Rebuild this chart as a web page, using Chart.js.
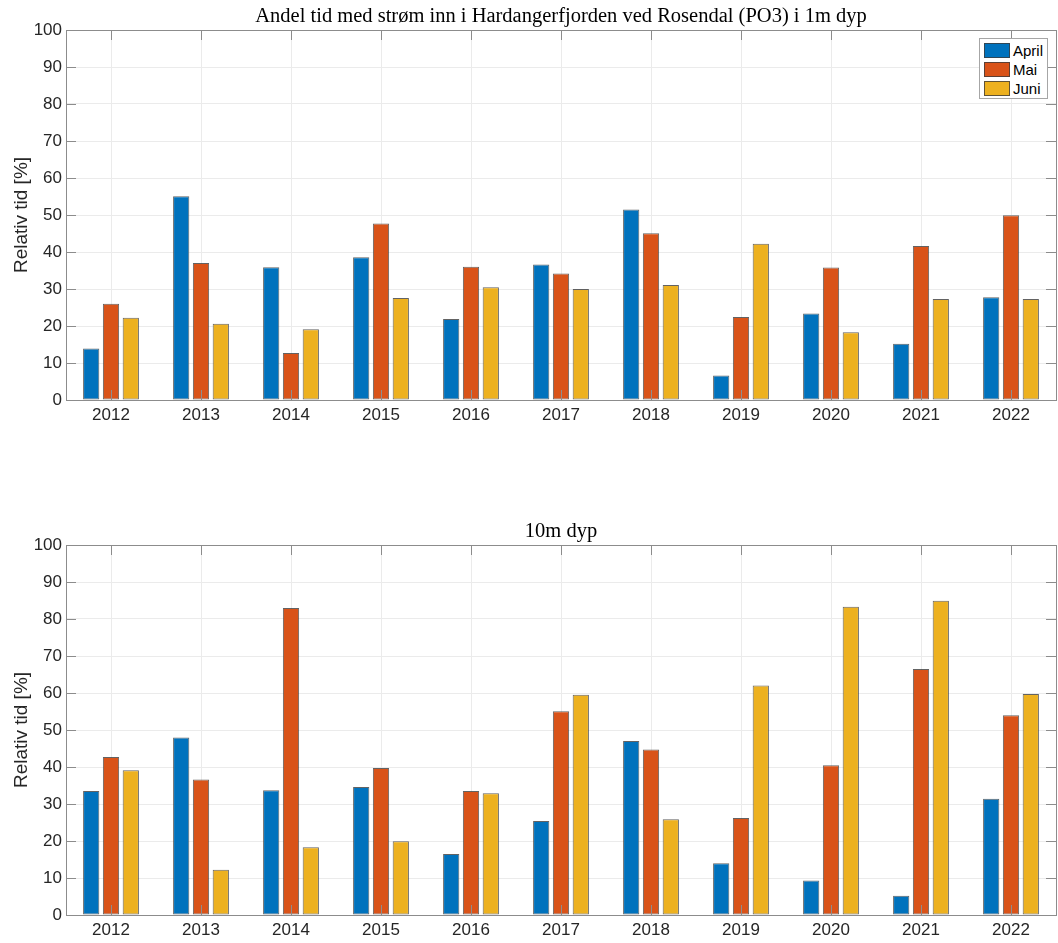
<!DOCTYPE html>
<html>
<head>
<meta charset="utf-8">
<title>Andel tid med strøm inn i Hardangerfjorden</title>
<script src="https://cdn.jsdelivr.net/npm/chart.js@4.4.0/dist/chart.umd.min.js"></script>
<style>
    html, body { margin: 0; padding: 0; background: #fff; }
    #wrap { position: relative; width: 1058px; height: 943px; }
    #wrap canvas { position: absolute; left: 0; }
    #chartTop { top: 0; }
    #chartBottom { top: 515px; }
    #legend {
        position: absolute; left: 979px; top: 38px;
        border: 1px solid #a6a6a6; background: #fff;
        padding: 2px 4px 0 4px;
        font: 15px "Liberation Sans", Arial, sans-serif; color: #000;
    }
    #legend .item { display: flex; align-items: center; height: 19px; }
    #legend .swatch { width: 24px; height: 13px; border: 1px solid rgba(60,60,60,0.8); margin-right: 3px; }
</style>
</head>
<body>
<div id="wrap">
    <canvas id="chartTop" width="1058" height="430"></canvas>
    <canvas id="chartBottom" width="1058" height="430"></canvas>
    <div id="legend"></div>
</div>
<script>
// Years along the x axis
const years = ['2012', '2013', '2014', '2015', '2016', '2017', '2018', '2019', '2020', '2021', '2022'];
const months = ['April', 'Mai', 'Juni'];
const monthColors = ['#0072BD', '#D95319', '#EDB120'];
const yTicks = [0, 10, 20, 30, 40, 50, 60, 70, 80, 90, 100];

// 1m dyp
const april1m = [13.9, 55.1, 35.9, 38.6, 21.9, 36.6, 51.5, 6.6, 23.4, 15.2, 27.8];
const mai1m   = [26.0, 37.0, 12.7, 47.7, 36.0, 34.2, 45.1, 22.4, 35.8, 41.6, 49.9];
const juni1m  = [22.2, 20.6, 19.1, 27.6, 30.5, 30.0, 31.1, 42.2, 18.3, 27.3, 27.3];

// 10m dyp
const april10m = [33.5, 48.0, 33.7, 34.6, 16.5, 25.4, 47.0, 14.0, 9.3, 5.2, 31.4];
const mai10m   = [42.7, 36.6, 83.0, 39.7, 33.5, 55.1, 44.7, 26.2, 40.5, 66.5, 54.0];
const juni10m  = [39.1, 12.2, 18.3, 19.9, 32.9, 59.5, 25.9, 62.0, 83.3, 84.9, 59.7];

const sansFont = '"Liberation Sans", Arial, Helvetica, sans-serif';
const serifFont = '"Liberation Serif", "Times New Roman", serif';

// MATLAB style box with inward ticks, drawn on top of the bars
const axisBox = {
    id: 'axisBox',
    afterDatasetsDraw(chart) {
        const { ctx, chartArea: a, scales: { x, y } } = chart;
        ctx.save();
        ctx.strokeStyle = '#8c8c8c';
        ctx.lineWidth = 1;
        ctx.beginPath();
        years.forEach((yr, i) => {
            const px = Math.round(x.getPixelForValue(i)) + 0.5;
            ctx.moveTo(px, a.bottom); ctx.lineTo(px, a.bottom - 10);
            ctx.moveTo(px, a.top); ctx.lineTo(px, a.top + 10);
        });
        yTicks.forEach(v => {
            const py = Math.round(y.getPixelForValue(v)) + 0.5;
            ctx.moveTo(a.left, py); ctx.lineTo(a.left + 10, py);
            ctx.moveTo(a.right, py); ctx.lineTo(a.right - 10, py);
        });
        ctx.stroke();
        ctx.strokeRect(Math.round(a.left) + 0.5, Math.round(a.top) + 0.5,
            Math.round(a.right - a.left), Math.round(a.bottom - a.top));
        ctx.restore();
    }
};

function makeChart(canvas, titleText, series) {
    return new Chart(canvas, {
        type: 'bar',
        data: {
            labels: years,
            datasets: months.map((m, i) => ({
                label: m,
                data: series[i],
                backgroundColor: monthColors[i],
                borderColor: 'rgba(60, 60, 60, 0.8)',
                borderWidth: 1,
                borderSkipped: false,
                categoryPercentage: 0.66,
                barPercentage: 0.82
            }))
        },
        options: {
            responsive: false,
            animation: false,
            layout: { padding: { left: 0, right: 2, top: 0, bottom: 0 } },
            plugins: {
                legend: { display: false },
                tooltip: { enabled: false },
                title: {
                    display: true,
                    text: titleText,
                    fullSize: false,
                    color: '#000',
                    font: { family: serifFont, size: 20.5, weight: 'normal', lineHeight: 1.2 },
                    padding: { top: 4, bottom: 1.4 }
                }
            },
            scales: {
                x: {
                    offset: true,
                    grid: { offset: false, color: '#ebebeb', drawTicks: false },
                    border: { display: false },
                    ticks: { color: '#262626', font: { family: sansFont, size: 17 }, padding: 5, maxRotation: 0 },
                    afterFit(scale) { scale.height = 30; }
                },
                y: {
                    min: 0,
                    max: 100,
                    grid: { color: '#ebebeb', drawTicks: false },
                    border: { display: false },
                    ticks: { stepSize: 10, color: '#262626', font: { family: sansFont, size: 17 }, padding: 4 },
                    title: {
                        display: true,
                        text: 'Relativ tid [%]',
                        color: '#262626',
                        font: { family: sansFont, size: 19 },
                        padding: { top: 10, bottom: 0 }
                    },
                    afterFit(scale) { scale.width = 66; }
                }
            }
        },
        plugins: [axisBox]
    });
}

makeChart(document.getElementById('chartTop'),
    'Andel tid med strøm inn i Hardangerfjorden ved Rosendal (PO3) i 1m dyp',
    [april1m, mai1m, juni1m]);
makeChart(document.getElementById('chartBottom'), '10m dyp',
    [april10m, mai10m, juni10m]);

// Legend box in the upper right corner of the top chart
const legend = document.getElementById('legend');
months.forEach((m, i) => {
    const item = document.createElement('div');
    item.className = 'item';
    item.innerHTML = `<span class="swatch" style="background:${monthColors[i]}"></span><span>${m}</span>`;
    legend.appendChild(item);
});
</script>
</body>
</html>
